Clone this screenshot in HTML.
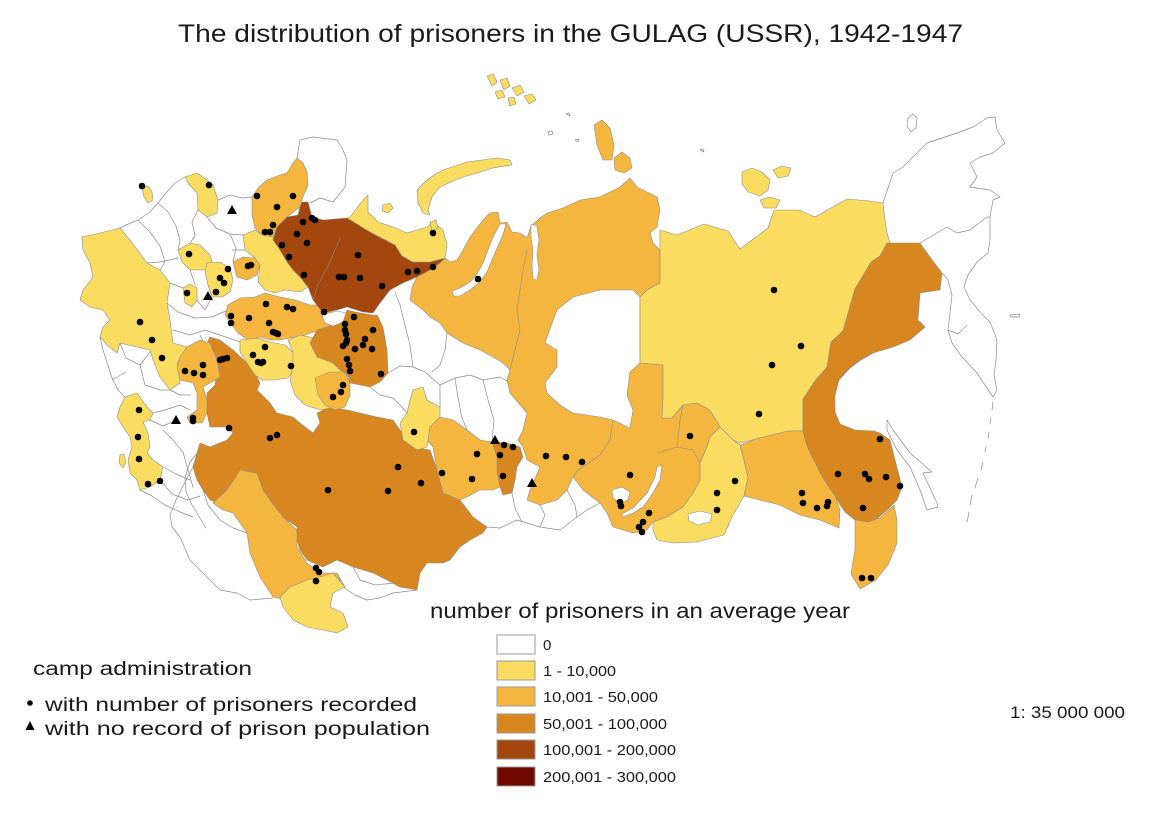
<!DOCTYPE html>
<html>
<head>
<meta charset="utf-8">
<style>
html,body{margin:0;padding:0;background:#fff;}
svg{display:block;}
text{font-family:"Liberation Sans",sans-serif;fill:#1a1a1a;}
</style>
</head>
<body>
<svg width="1169" height="827" viewBox="0 0 1169 827" xmlns="http://www.w3.org/2000/svg">
<rect width="1169" height="827" fill="#fff"/>

<!-- Title -->
<text x="178" y="42" font-size="25" textLength="785" lengthAdjust="spacingAndGlyphs">The distribution of prisoners in the GULAG (USSR), 1942-1947</text>

<!-- gray borders of white (0) regions -->
<g fill="none" stroke="#8a8a8a" stroke-width="0.7" stroke-linejoin="round" stroke-linecap="round">
<path d="M300,140 L313,137 L337,140 L343,150 L347,160 L345,187 L333,202 L320,198 L310,203 M300,140 L297,158"/>
<path d="M185,177 L175,183 L166,193 L158,203 L150,212 L138,220 L126,225 L120,228"/>
<path d="M158,203 L168,212 L176,226 L180,240 L178,250"/>
<path d="M138,220 L150,232 L160,246 L165,262 L160,270"/>
<path d="M197,193 L205,200 M198,210 L192,222 L195,236 L190,243"/>
<path d="M207,217 L216,228 L230,234 L243,235"/>
<path d="M218,200 L230,195 L242,198 L252,197"/>
<path d="M230,234 L236,248 L233,262 M232,250 L245,250"/>
<path d="M147,263 L160,262 L178,258"/>
<path d="M170,283 L183,288"/>
<path d="M167,303 L178,312 L195,318 L212,317 L228,310"/>
<path d="M197,300 L205,310 L212,297"/>
<path d="M173,330 L190,335 L205,330 L220,335 L243,343"/>
<path d="M190,270 L195,284 M200,335 L205,345"/>
<path d="M100,337 L103,350 L108,365 L112,378 L118,390 L125,397"/>
<path d="M120,343 L126,358 L140,365 L150,352"/>
<path d="M140,365 L145,385 L160,390 L170,390 M126,372 L112,380"/>
<path d="M150,420 L163,426 L177,420"/>
<path d="M153,413 L165,410 L180,405 L190,410 M170,390 L180,395 L190,395"/>
<path d="M163,430 L173,440 L183,452 L188,470 L193,487"/>
<path d="M163,467 L176,474 L190,480"/>
<path d="M160,480 L172,494 L188,500 L200,496"/>
<path d="M140,490 L152,496 L165,505 L180,512 L193,517"/>
<path d="M197,453 L190,462 L185,478 L186,492 L192,505 L200,518 L206,528"/>
<path d="M193,467 L185,482 L176,500 L170,515 L172,527 L180,537 L190,560 L203,573 L220,590 L237,593 L250,600 L273,598"/>
<path d="M203,490 L208,505 L220,520 L233,528 L247,533"/>
<path d="M343,587 L355,595 L367,600 L380,598 L393,593 L417,590"/>
<path d="M337,573 L345,587 M353,567 L360,580 L375,585 L395,583"/>
<path d="M487,527 L500,528 L517,520 L540,527 L560,530 L577,517 L587,510 L600,503"/>
<path d="M512,493 L515,508 L522,522 M540,505 L545,515 L540,527 M567,490 L575,505 L577,517"/>
<path d="M388,373 L400,366 L413,367 L425,372 L440,385 L440,407"/>
<path d="M413,367 L410,345 L405,325 L400,305 L395,292"/>
<path d="M440,385 L455,378 L470,375 L483,380 L500,377 L517,387"/>
<path d="M483,380 L488,400 L494,420 L492,442"/>
<path d="M455,378 L458,398 L462,418 L467,430"/>
<path d="M447,333 L445,350 L440,365 L432,372"/>
<path d="M370,387 L380,395 L393,398 L400,405 L407,413"/>
<path d="M883,203 L893,173 L903,167 L927,143 L957,133 L973,127 L987,118 L995,117 L997,130 L1005,143 L993,153 L980,157 L970,163 L977,177 L970,187 L990,190 L1000,197 L993,200 L990,217 L990,240 L988,253 L977,262 L968,275 L964,287 L970,300 L980,312 L990,322 L997,340 L996,360 L994,375 L997,390 L993,397 L977,373 L962,357 L952,343 L948,330 L950,313 L952,295 L948,280 L942,273"/>
<path d="M920,243 L947,227 L957,233 L970,230 L987,217 L990,217"/>
<path d="M948,330 L958,334 L967,325"/>
<path d="M908,118 L913,114 L917,118 L916,128 L911,132 L907,126 Z"/>
<path d="M1010,315 L1020,314 L1019,317 L1011,317 Z"/>
<path d="M887,420 L893,430 L910,453 L932,472 L923,473 L937,503 L938,507 L927,510 L920,490 L910,467 L897,450 L887,430 Z"/>
<path d="M993,402 L992,410 M991,418 L990,424 M989,432 L988,438 M986,447 L985,452 M983,462 L981,470 M978,478 L975,488 M972,495 L970,505 M969,512 L967,522"/>
<path d="M548,132 L552,131 L553,134 L549,135 Z M566,114 L569,113 L570,116 Z M575,140 L579,139 L578,142 Z M700,150 L703,149 L704,152 Z"/>
</g>

<!-- colored regions -->
<g stroke="#8d8d8d" stroke-width="0.6" stroke-linejoin="round">
<!-- Kazakhstan 50-100k -->
<polygon fill="#D8861F" points="207,343 210,337 220,340 233,350 247,363 257,377 260,383 257,390 270,403 277,413 293,417 300,423 313,433 320,423 317,413 330,407 347,410 360,413 377,417 393,420 400,430 413,447 430,450 437,470 443,493 460,500 473,517 487,527 483,533 470,540 460,547 450,560 443,563 427,563 420,573 417,590 400,587 387,580 373,573 353,567 337,560 323,567 307,560 300,550 297,540 297,527 283,517 270,500 263,490 257,473 240,470 227,490 217,503 210,500 203,490 197,480 193,467 197,453 200,443 210,447 227,440 233,433 227,427 210,427 207,413 207,400 207,393 215,385 217,370 213,355"/>
<polygon fill="#F5B63F" points="213,503 227,490 240,470 257,473 263,490 270,500 283,517 297,530 297,547 307,563 320,573 337,573 343,587 327,590 317,587 307,580 300,593 287,600 273,597 260,577 250,553 247,533 240,523 233,513 223,510"/>
<polygon fill="#FADC60" points="290,587 307,580 320,577 333,573 345,587 333,593 330,607 343,613 348,627 337,633 323,630 307,627 293,620 283,607 280,597"/>
<!-- West -->
<polygon fill="#FADC60" points="82,237 100,233 120,228 130,240 147,263 160,270 170,283 167,303 170,320 173,343 187,347 177,363 180,370 180,383 170,390 160,377 153,360 150,350 137,347 120,343 117,353 107,345 100,337 103,327 110,320 103,310 90,307 80,300 83,290 93,277 90,263 83,250"/>
<polygon fill="#FADC60" points="120,407 125,397 137,393 147,407 153,413 150,420 143,422 148,433 150,447 147,453 153,460 163,467 160,480 150,487 140,490 137,480 130,473 128,460 132,447 130,437 123,427 117,417"/>
<polygon fill="#FADC60" points="120,455 124,454 126,462 123,468 119,463"/>
<polygon fill="#F5B63F" points="187,347 200,340 210,343 217,360 220,377 210,383 203,387 207,400 207,413 202,423 190,423 187,417 197,410 197,393 193,383 180,380 177,367 180,357"/>
<polygon fill="#FADC60" points="185,177 197,173 207,180 213,185 218,200 217,213 207,217 198,210 197,193 188,183"/>
<polygon fill="#FADC60" points="142,188 148,186 152,192 153,200 148,203 144,197"/>
<polygon fill="#F5B63F" points="252,197 258,188 267,180 280,175 287,173 293,163 297,158 303,163 307,172 308,185 303,197 300,207 287,217 277,227 273,237 262,235 255,228 252,215"/>
<polygon fill="#FADC60" points="178,250 190,243 200,245 210,255 213,265 205,270 190,270 182,262"/>
<polygon fill="#FADC60" points="207,263 220,262 230,268 233,280 230,292 222,297 212,297 208,285 205,272"/>
<polygon fill="#FADC60" points="183,288 190,284 197,288 197,300 192,307 185,303"/>
<polygon fill="#FADC60" points="243,235 255,230 262,235 273,237 280,250 290,263 300,277 308,287 300,292 285,290 275,293 265,290 258,282 260,265 255,258 245,250"/>
<polygon fill="#F5B63F" points="233,262 243,257 255,258 260,265 257,275 247,280 237,277"/>
<polygon fill="#F5B63F" points="228,305 240,298 255,297 265,293 280,297 295,300 310,305 320,305 330,310 337,315 333,325 320,330 305,335 290,338 280,340 270,340 260,337 248,340 238,333 232,325 225,315"/>
<polygon fill="#FADC60" points="240,340 258,338 270,342 285,345 293,352 295,368 288,378 275,380 262,380 255,375 247,363 240,352"/>
<polygon fill="#FADC60" points="288,340 300,335 315,338 330,345 345,360 348,375 340,395 330,408 320,410 305,405 295,395 290,380 293,365 293,352"/>
<polygon fill="#F5B63F" points="315,378 330,372 345,372 350,383 350,395 345,407 335,410 325,405 318,395"/>
<polygon fill="#D8861F" points="347,310 355,312 372,315 377,315 383,327 387,350 388,373 380,382 370,387 360,385 350,383 348,375 340,370 333,363 317,357 310,343 317,330 327,327 337,323 345,315"/>
<polygon fill="#ffffff" points="322,315 337,311 346,313 343,322 333,326 325,323"/>
<!-- North -->
<polygon fill="#A3470F" points="302,202 308,202 312,217 323,220 347,218 370,232 395,245 402,256 413,262 430,262 445,258 440,263 430,270 417,277 403,283 390,290 380,303 373,313 363,312 347,307 337,310 323,313 313,300 308,287 300,277 293,270 287,262 280,250 273,240 277,227 287,217 298,215 300,207"/>
<polygon fill="#FADC60" points="347,218 350,217 363,200 368,195 368,212 378,222 393,227 407,233 427,227 433,222 443,230 447,245 445,258 430,262 413,262 402,256 395,245 370,232"/>
<polygon fill="#FADC60" points="383,205 390,203 393,208 388,213 382,211"/>
<polygon fill="#FADC60" points="437,173 443,170 467,162 497,158 510,160 512,165 493,168 477,173 460,178 440,187 432,197 428,210 430,215 423,213 418,203 417,190 427,180"/>
<polygon fill="#FADC60" points="430,222 436,220 438,228 432,231"/>
<polygon fill="#FADC60" points="487,76 493,74 497,82 492,86"/>
<polygon fill="#FADC60" points="500,80 507,78 510,86 504,90"/>
<polygon fill="#FADC60" points="512,88 520,85 524,92 517,96"/>
<polygon fill="#FADC60" points="524,96 532,94 536,100 529,104"/>
<polygon fill="#FADC60" points="495,92 502,90 505,97 498,99"/>
<polygon fill="#FADC60" points="508,98 514,97 516,104 510,106"/>
<polygon fill="#F5B63F" points="594,125 602,120 610,128 614,145 612,160 603,160 597,145"/>
<polygon fill="#F5B63F" points="614,158 622,152 630,158 632,168 624,173 615,170"/>
<polygon fill="#FADC60" points="742,172 752,168 762,172 770,180 768,190 760,196 748,192 742,184"/>
<polygon fill="#FADC60" points="773,170 782,166 791,168 788,176 778,178"/>
<polygon fill="#FADC60" points="760,200 770,197 780,200 776,208 764,208"/>
<!-- Siberia -->
<polygon fill="#F5B63F" points="445,258 450,262 457,260 462,252 470,237 483,220 490,213 498,212 500,223 507,222 512,232 520,233 527,238 531,226 540,218 547,213 563,208 580,200 600,197 620,187 630,178 637,187 647,192 657,197 660,210 657,227 650,233 653,243 660,250 660,283 647,290 640,297 640,363 663,365 663,400 662,418 672,418 683,405 697,403 710,410 720,427 710,437 707,447 700,463 700,480 693,493 683,507 667,517 653,522 647,530 633,533 613,527 607,513 600,503 583,490 573,477 567,490 557,500 540,505 527,500 530,490 540,467 527,460 523,447 518,440 523,430 527,413 510,393 507,380 510,370 503,363 493,357 480,350 463,343 447,333 440,323 430,317 423,310 410,300 412,287 417,277 430,270 440,263"/>
<polygon fill="#ffffff" points="500,224 506,224 503,235 497,248 492,260 487,272 480,282 470,290 460,296 454,296 452,291 460,288 470,282 477,274 483,263 488,250 493,237"/>
<polygon fill="#ffffff" points="531,224 537,226 539,240 537,255 539,270 537,280 533,279 532,265 533,250 531,237"/>
<polygon fill="#ffffff" points="573,297 600,290 633,290 640,297 640,363 630,372 627,395 633,410 630,428 613,420 600,417 573,413 560,405 547,393 545,383 557,367 557,350 545,343 547,337 557,310"/>
<polygon fill="#D8861F" points="492,442 507,443 520,447 523,457 517,467 515,480 512,493 503,495 500,487 497,470 493,457"/>
<polygon fill="#F5B63F" points="427,420 440,417 453,420 467,430 480,440 492,442 497,457 497,470 500,487 493,490 480,490 467,497 460,500 443,493 437,470 433,447 427,440"/>
<polygon fill="#FADC60" points="413,390 423,387 427,400 440,407 440,417 430,427 427,447 417,450 403,440 400,423 407,413 410,400"/>
<polygon fill="#FADC60" points="660,230 677,235 704,224 728,231 740,249 768,228 774,210 799,210 815,217 847,199 870,201 883,203 885,220 887,233 890,243 880,256 871,262 855,289 849,310 843,331 831,342 827,367 815,381 803,399 803,431 788,431 756,439 740,443 733,440 720,427 710,410 697,403 683,405 672,418 662,418 663,400 663,365 640,363 640,297 647,290 660,283 660,257"/>
<polygon fill="#FADC60" points="720,427 733,440 740,445 744,460 748,478 744,496 732,517 724,535 697,542 673,543 657,540 653,530 653,522 667,517 683,507 693,493 700,480 700,463 707,447 710,437"/>
<polygon fill="#F5B63F" points="740,445 756,439 788,431 803,431 807,446 815,462 823,478 835,496 840,510 839,528 820,520 800,515 780,505 760,500 744,496 748,478 744,460"/>
<polygon fill="#D8861F" points="887,243 920,243 930,257 942,273 940,290 920,293 918,320 925,327 910,340 893,347 873,353 860,360 850,368 839,380 835,395 835,412 840,424 855,430 874,431 880,433 890,440 895,460 902,487 897,500 887,510 878,518 868,522 855,520 845,512 840,505 835,496 823,478 815,462 807,446 803,431 803,399 815,381 827,367 831,342 843,331 849,310 855,289 871,262 880,256"/>
<polygon fill="#F5B63F" points="855,520 868,522 880,518 894,505 897,520 897,543 888,565 876,580 860,589 851,574 855,549 855,528"/>
<polygon fill="#ffffff" points="657,467 662,465 660,480 653,493 643,507 633,513 623,517 622,514 633,508 647,493 655,477"/>
<polygon fill="#ffffff" points="612,490 622,487 630,492 628,500 620,503 613,498"/>
<polygon fill="#ffffff" points="688,514 700,511 712,514 710,522 698,525 689,521"/>
</g>

<!-- internal borders inside colored areas -->
<g fill="none" stroke="#8d8d8d" stroke-width="0.6" stroke-linejoin="round">
<path d="M340,238 L333,255 L327,268 L318,285 L313,300"/>
<path d="M527,250 L523,270 L520,290 L517,310 L520,330 L515,350 L510,370"/>
<path d="M613,420 L610,440 L600,455 L590,462 L578,470 L573,477"/>
<path d="M657,453 L677,447 L693,450 L700,463 M683,405 L680,420 L677,447"/>
<path d="M873,353 L858,362 L845,372 L839,380"/>
</g>

<!-- camps: dots -->
<g fill="#000">
<circle cx="142" cy="186" r="3.3"/><circle cx="209" cy="185" r="3.3"/><circle cx="257" cy="196" r="3.3"/><circle cx="293" cy="196" r="3.3"/>
<circle cx="277" cy="207" r="3.3"/><circle cx="273" cy="225" r="3.3"/><circle cx="265" cy="232" r="3.3"/><circle cx="270" cy="232" r="3.3"/>
<circle cx="303" cy="222" r="3.3"/><circle cx="312" cy="218" r="3.3"/><circle cx="315" cy="220" r="3.3"/><circle cx="297" cy="234" r="3.3"/>
<circle cx="307" cy="243" r="3.3"/><circle cx="282" cy="245" r="3.3"/><circle cx="289" cy="257" r="3.3"/><circle cx="304" cy="275" r="3.3"/>
<circle cx="358" cy="255" r="3.3"/><circle cx="339" cy="277" r="3.3"/><circle cx="344" cy="277" r="3.3"/><circle cx="360" cy="278" r="3.3"/>
<circle cx="382" cy="286" r="3.3"/><circle cx="408" cy="272" r="3.3"/><circle cx="417" cy="271" r="3.3"/><circle cx="433" cy="267" r="3.3"/>
<circle cx="433" cy="233" r="3.3"/><circle cx="189" cy="254" r="3.3"/><circle cx="248" cy="266" r="3.3"/><circle cx="251" cy="265" r="3.3"/>
<circle cx="228" cy="269" r="3.3"/><circle cx="220" cy="278" r="3.3"/><circle cx="224" cy="283" r="3.3"/><circle cx="216" cy="292" r="3.3"/>
<circle cx="187" cy="293" r="3.3"/><circle cx="266" cy="304" r="3.3"/><circle cx="287" cy="307" r="3.3"/><circle cx="293" cy="309" r="3.3"/>
<circle cx="324" cy="312" r="3.3"/><circle cx="249" cy="318" r="3.3"/><circle cx="231" cy="316" r="3.3"/><circle cx="231" cy="323" r="3.3"/>
<circle cx="269" cy="323" r="3.3"/><circle cx="273" cy="332" r="3.3"/><circle cx="276" cy="333" r="3.3"/><circle cx="278" cy="334" r="3.3"/>
<circle cx="265" cy="347" r="3.3"/><circle cx="253" cy="355" r="3.3"/><circle cx="258" cy="362" r="3.3"/><circle cx="261" cy="363" r="3.3"/>
<circle cx="263" cy="362" r="3.3"/><circle cx="291" cy="366" r="3.3"/><circle cx="220" cy="360" r="3.3"/><circle cx="223" cy="359" r="3.3"/>
<circle cx="227" cy="358" r="3.3"/><circle cx="185" cy="371" r="3.3"/><circle cx="194" cy="373" r="3.3"/><circle cx="203" cy="365" r="3.3"/>
<circle cx="203" cy="375" r="3.3"/><circle cx="162" cy="358" r="3.3"/><circle cx="140" cy="322" r="3.3"/><circle cx="152" cy="340" r="3.3"/>
<circle cx="354" cy="317" r="3.3"/><circle cx="345" cy="324" r="3.3"/><circle cx="345" cy="330" r="3.3"/><circle cx="346" cy="334" r="3.3"/>
<circle cx="373" cy="330" r="3.3"/><circle cx="347" cy="340" r="3.3"/><circle cx="346" cy="343" r="3.3"/><circle cx="343" cy="346" r="3.3"/>
<circle cx="365" cy="339" r="3.3"/><circle cx="363" cy="345" r="3.3"/><circle cx="355" cy="349" r="3.3"/><circle cx="372" cy="349" r="3.3"/>
<circle cx="347" cy="359" r="3.3"/><circle cx="349" cy="365" r="3.3"/><circle cx="350" cy="371" r="3.3"/><circle cx="381" cy="374" r="3.3"/>
<circle cx="343" cy="385" r="3.3"/><circle cx="341" cy="392" r="3.3"/><circle cx="333" cy="397" r="3.3"/><circle cx="193" cy="418" r="3.3"/>
<circle cx="193" cy="421" r="3.3"/><circle cx="229" cy="428" r="3.3"/><circle cx="270" cy="438" r="3.3"/><circle cx="277" cy="435" r="3.3"/>
<circle cx="139" cy="410" r="3.3"/><circle cx="138" cy="437" r="3.3"/><circle cx="139" cy="459" r="3.3"/><circle cx="148" cy="484" r="3.3"/>
<circle cx="160" cy="481" r="3.3"/><circle cx="414" cy="432" r="3.3"/><circle cx="398" cy="467" r="3.3"/><circle cx="442" cy="473" r="3.3"/>
<circle cx="421" cy="483" r="3.3"/><circle cx="328" cy="490" r="3.3"/><circle cx="388" cy="491" r="3.3"/><circle cx="316" cy="568" r="3.3"/>
<circle cx="319" cy="572" r="3.3"/><circle cx="316" cy="581" r="3.3"/><circle cx="478" cy="279" r="3.3"/>
<circle cx="477" cy="454" r="3.3"/><circle cx="472" cy="479" r="3.3"/><circle cx="504" cy="445" r="3.3"/><circle cx="513" cy="447" r="3.3"/>
<circle cx="500" cy="455" r="3.3"/><circle cx="503" cy="476" r="3.3"/><circle cx="546" cy="456" r="3.3"/><circle cx="566" cy="457" r="3.3"/>
<circle cx="582" cy="462" r="3.3"/><circle cx="630" cy="475" r="3.3"/><circle cx="690" cy="436" r="3.3"/><circle cx="620" cy="502" r="3.3"/>
<circle cx="621" cy="506" r="3.3"/><circle cx="649" cy="513" r="3.3"/><circle cx="643" cy="522" r="3.3"/><circle cx="639" cy="527" r="3.3"/>
<circle cx="642" cy="532" r="3.3"/><circle cx="735" cy="481" r="3.3"/><circle cx="717" cy="493" r="3.3"/><circle cx="717" cy="510" r="3.3"/>
<circle cx="774" cy="290" r="3.3"/><circle cx="801" cy="346" r="3.3"/><circle cx="772" cy="365" r="3.3"/><circle cx="759" cy="414" r="3.3"/>
<circle cx="880" cy="439" r="3.3"/><circle cx="838" cy="474" r="3.3"/><circle cx="865" cy="474" r="3.3"/><circle cx="869" cy="479" r="3.3"/>
<circle cx="886" cy="477" r="3.3"/><circle cx="900" cy="486" r="3.3"/><circle cx="863" cy="508" r="3.3"/><circle cx="802" cy="493" r="3.3"/>
<circle cx="803" cy="503" r="3.3"/><circle cx="817" cy="508" r="3.3"/><circle cx="827" cy="506" r="3.3"/><circle cx="828" cy="502" r="3.3"/>
<circle cx="862" cy="578" r="3.3"/><circle cx="871" cy="578" r="3.3"/>
</g>
<!-- camps: triangles -->
<g fill="#000">
<polygon points="232,205 227,214 237,214"/>
<polygon points="208,291 203,300 213,300"/>
<polygon points="176,415 171,424 181,424"/>
<polygon points="495,435 490,444 500,444"/>
<polygon points="532,478 527,487 537,487"/>
</g>

<!-- Legend: prisoners -->
<text x="430" y="618" font-size="21" textLength="420" lengthAdjust="spacingAndGlyphs">number of prisoners in an average year</text>
<g stroke="#9a9a9a" stroke-width="1">
<rect x="497" y="635" width="38" height="19" fill="#ffffff"/>
<rect x="497" y="661" width="38" height="19" fill="#FADC60"/>
<rect x="497" y="687" width="38" height="19" fill="#F5B63F"/>
<rect x="497" y="714" width="38" height="19" fill="#D8861F"/>
<rect x="497" y="740" width="38" height="19" fill="#A3470F"/>
<rect x="497" y="767" width="38" height="19" fill="#6E0A00"/>
</g>
<g font-size="15" fill="#333">
<text x="543" y="650">0</text>
<text x="543" y="676" textLength="73" lengthAdjust="spacingAndGlyphs">1 - 10,000</text>
<text x="543" y="702" textLength="115" lengthAdjust="spacingAndGlyphs">10,001 - 50,000</text>
<text x="543" y="729" textLength="124" lengthAdjust="spacingAndGlyphs">50,001 - 100,000</text>
<text x="543" y="755" textLength="133" lengthAdjust="spacingAndGlyphs">100,001 - 200,000</text>
<text x="543" y="782" textLength="133" lengthAdjust="spacingAndGlyphs">200,001 - 300,000</text>
</g>

<!-- Legend: camps -->
<text x="33" y="675" font-size="19" textLength="219" lengthAdjust="spacingAndGlyphs">camp administration</text>
<circle cx="30" cy="703" r="2.8" fill="#000"/>
<text x="45" y="711" font-size="19" textLength="372" lengthAdjust="spacingAndGlyphs">with number of prisoners recorded</text>
<polygon points="30,721 25.5,730 34.5,730" fill="#000"/>
<text x="45" y="735" font-size="19" textLength="385" lengthAdjust="spacingAndGlyphs">with no record of prison population</text>

<!-- Scale -->
<text x="1010" y="718" font-size="17" textLength="115" lengthAdjust="spacingAndGlyphs">1: 35 000 000</text>
</svg>
</body>
</html>
